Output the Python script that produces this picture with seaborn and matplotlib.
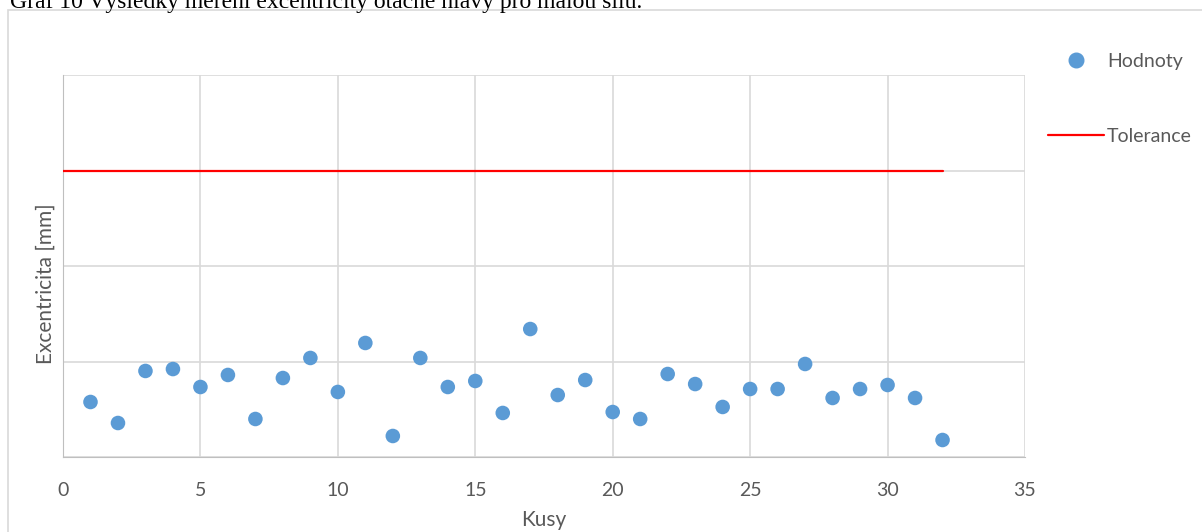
import numpy as np
import pandas as pd
import matplotlib
matplotlib.use("Agg")
import matplotlib.pyplot as plt
import seaborn as sns
from matplotlib.lines import Line2D
from matplotlib.patches import Rectangle

# Data
kusy = list(range(1, 33))
hodnoty = [0.00576, 0.00356, 0.00901, 0.00921, 0.00733, 0.00859, 0.00398, 0.00827,
           0.01037, 0.00681, 0.01194, 0.00220, 0.01037, 0.00733, 0.00796, 0.00461,
           0.01340, 0.00649, 0.00806, 0.00471, 0.00398, 0.00869, 0.00764, 0.00524,
           0.00712, 0.00712, 0.00974, 0.00618, 0.00712, 0.00754, 0.00618, 0.00178]
tolerance_x = [0, 32]
tolerance_y = [0.03, 0.03]

df = pd.DataFrame({"Kusy": kusy, "Hodnoty": hodnoty})
tol = pd.DataFrame({"x": tolerance_x, "y": tolerance_y})

sns.set_style("white")
plt.rcParams['font.family'] = ['Lato', 'DejaVu Sans']

text_col = "#595959"
blue = "#5b9bd5"

fig = plt.figure(figsize=(12.02, 5.32), dpi=100)
ax = fig.add_axes([63 / 1202, 75 / 532, 962 / 1202, 382 / 532])

sns.lineplot(data=tol, x="x", y="y", color="#ff0000", linewidth=1.6, ax=ax, zorder=3)
sns.scatterplot(data=df, x="Kusy", y="Hodnoty", color=blue, s=110, edgecolor="none",
                ax=ax, zorder=4)

ax.set_xlim(0, 35)
ax.set_ylim(0, 0.04)
ax.set_xticks(np.arange(0, 36, 5))
ax.set_yticks(np.arange(0, 0.041, 0.01))
ax.set_yticklabels([])
ax.grid(True, color="#d9d9d9", linewidth=1.2)
ax.set_axisbelow(True)
for side, sp in ax.spines.items():
    sp.set_visible(side in ("left", "bottom"))
    sp.set_color("#bfbfbf")
ax.tick_params(axis="x", length=0, labelsize=14, labelcolor=text_col, pad=18)
ax.tick_params(axis="y", length=0)
ax.set_xlabel("Kusy", fontsize=15, color=text_col, labelpad=8)
ax.set_ylabel("Excentricita [mm]", fontsize=15, color=text_col)
ax.yaxis.set_label_coords(-0.008, 0.455)

handles = [
    Line2D([], [], linestyle="none", marker="o", markersize=10.5, color=blue, label="Hodnoty"),
    Line2D([], [], color="#ff0000", linewidth=1.6, label="Tolerance"),
]
leg = fig.legend(handles=handles, loc="upper left", bbox_to_anchor=(1030 / 1202, 1 - 35 / 532),
                 frameon=False, fontsize=14, labelspacing=3.0, handlelength=2.9,
                 handletextpad=0.15, labelcolor=text_col)

# chart border (cropped screenshot)
fig.patches.append(Rectangle((8 / 1202, -0.1), 1.2, 1 - 10 / 532 + 0.1,
                             transform=fig.transFigure, fill=False,
                             edgecolor="#d9d9d9", linewidth=1.2))

# document caption cut off at top edge
fig.text(10 / 1202, 1 + 8 / 532, "Graf 10 Výsledky měření excentricity otáčné hlavy pro malou sílu.",
         family="Liberation Serif", fontsize=17, color="black", va="top", ha="left")

fig.savefig("out.png", dpi=100)
